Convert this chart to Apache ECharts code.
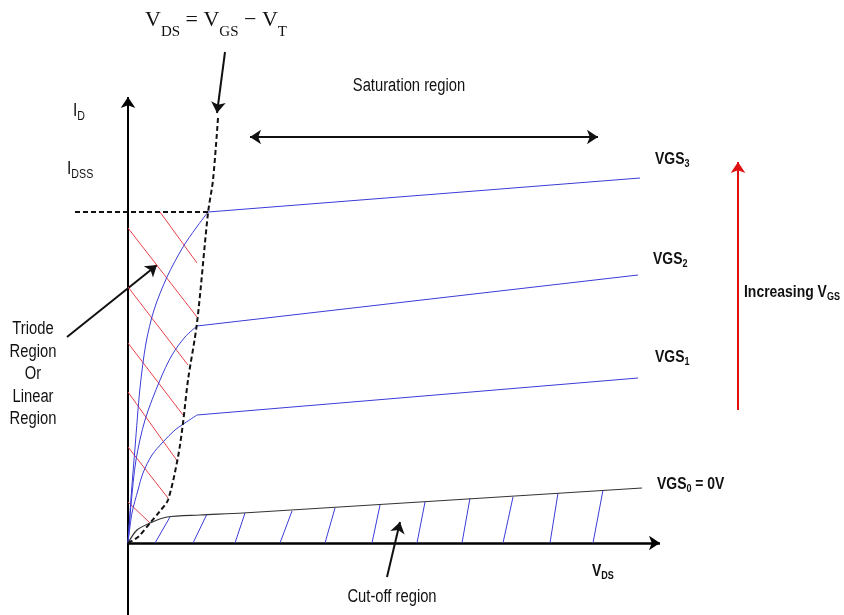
<!DOCTYPE html>
<html>
<head>
<meta charset="utf-8">
<script src="https://cdn.jsdelivr.net/npm/echarts@6/dist/echarts.min.js"></script>
<style>
html, body { margin: 0; background: #fff; }
#chart1 { width: 844px; height: 615px; }
</style>
</head>
<body>
<div id="chart1"></div>
<script>
// diagram units: x = V_DS, y = I_D, origin where the axes cross
var boundary = [[0,0],[1.0,0.6],[2.2,2.0],[3.2,3.2],[4.0,4.3],[5.0,8.6],[5.5,12.0],[6.0,16.3],[6.9,22.0],[8.0,33.0],[8.5,36.3],[9.0,42.5]];
var idssLine = [[-5.3,33.1],[8.0,33.1]];

var vgs3Curve = [[0,0],[0.3,4.5],[0.7,9.5],[1.2,15.5],[1.8,20.0],[2.6,23.3],[3.9,26.6],[5.5,29.6],[6.8,31.5],[8.0,33.1]];
var vgs3Sat = [[8.0,33.1],[51.2,36.5]];
var vgs2Curve = [[0,0],[0.3,3.8],[0.8,8.3],[1.7,12.3],[3.2,16.3],[4.4,18.8],[5.7,20.6],[6.9,21.7]];
var vgs2Sat = [[6.9,21.7],[51.0,26.8]];
var vgs1Curve = [[0,0],[0.4,3.0],[1.0,5.3],[1.5,7.0],[2.4,8.8],[3.5,10.1],[4.7,11.3],[5.4,11.8],[6.9,12.8]];
var vgs1Sat = [[6.9,12.8],[51.0,16.5]];
var vgs0 = [[0,0],[0.9,1.3],[2.2,2.0],[3.9,2.6],[7.2,2.8],[11.5,3.0],[51.4,5.5]];

// red hatching of the triode region
var triodeHatch = [
    [[3.2,33.1],[6.9,28.0]],
    [[0,31.5],[6.9,22.6]],
    [[0,25.6],[6.0,17.8]],
    [[0,20.0],[5.5,12.8]],
    [[0,15.1],[5.0,8.1]],
    [[0,9.6],[4.0,4.5]],
    [[0,4.1],[2.2,2.0]]
];
// blue hatching of the cut-off region: foot on the V_DS axis, top on VGS0
var cutoffFoot = [2.7, 6.5, 10.7, 15.2, 19.7, 24.4, 28.9, 33.4, 37.5, 42.2, 46.5];
var cutoffTop = [[4.2,2.6],[7.9,2.9],[11.7,3.0],[16.4,3.2],[20.7,3.5],[25.2,3.8],[29.7,4.1],[34.2,4.5],[38.5,4.6],[43.0,5.0],[47.5,5.3]];

var axisLines = [[[0,-7.2],[0,44.6]], [[0,0],[53.2,0]]];
var formulaArrow = [[9.7,49.1],[8.9,43.0]];
var saturationArrow = [[12.2,40.6],[47.0,40.6]];
var triodeArrow = [[-6.1,20.6],[2.9,27.8]];
var cutoffArrow = [[25.9,-3.4],[27.2,2.1]];
var vgsArrow = [[61.0,13.3],[61.0,38.1]];

var sans = '"Liberation Sans", Arial, sans-serif';
var serif = '"Liberation Serif", "Times New Roman", serif';
var squeeze = 0.82;   // the source lettering is condensed

_initChart();

function segments (list) {
    var out = [];
    list.forEach(function (s) {
        out.push(s[0], s[1], '-');
    });
    return out;
}

// text with subscripts, y is the baseline of the big letters
function subText (x, y, text, family, size, subSize, weight, drop, sx) {
    var pad = Math.round(0.85 * (size - subSize) + drop);
    return {
        type: 'text',
        x: x,
        y: y - 0.85 * size,
        scaleX: sx,
        style: {
            text: text,
            fill: '#111',
            align: 'left',
            verticalAlign: 'top',
            rich: {
                b: { fontFamily: family, fontSize: size, fontWeight: weight, lineHeight: size, verticalAlign: 'top' },
                s: { fontFamily: family, fontSize: subSize, fontWeight: weight, lineHeight: subSize, verticalAlign: 'top', padding: [pad, 0, 0, 0] }
            }
        }
    };
}

function plainText (x, y, text, size, weight, align, lh) {
    return {
        type: 'text',
        x: x,
        y: y,
        scaleX: squeeze,
        style: {
            text: text,
            fill: '#111',
            font: weight + ' ' + size + 'px ' + sans,
            align: align,
            verticalAlign: 'top',
            lineHeight: lh
        }
    };
}

function arrow (coords, color, width, both) {
    return {
        type: 'lines',
        coordinateSystem: 'cartesian2d',
        symbol: both ? ['arrow', 'arrow'] : ['none', 'arrow'],
        symbolSize: 11,
        lineStyle: { color: color, width: width, opacity: 1, curveness: 0 },
        data: [{ coords: coords }],
        silent: true
    };
}

function line (data, color, width, type, smooth) {
    return {
        type: 'line',
        data: data,
        symbol: 'none',
        smooth: smooth || false,
        connectNulls: false,
        lineStyle: { color: color, width: width, type: type || 'solid' },
        silent: true
    };
}

function _initChart () {
    var myChart = echarts.init(document.getElementById('chart1'));
    var blue = '#3b3bd6';
    var red = '#e8424a';
    var cutoffSegs = cutoffFoot.map(function (x, i) { return [[x, 0], cutoffTop[i]]; });
    var option = {
        animation: false,
        grid: { left: 0, right: 0, top: 0, bottom: 0 },
        xAxis: { type: 'value', min: -12.8, max: 71.6, show: false },
        yAxis: { type: 'value', min: -7.2, max: 54.3, show: false },
        series: [
            line(segments(triodeHatch), red, 1),
            line(segments(cutoffSegs), blue, 1),
            line(vgs3Curve, blue, 1, 'solid', 0.3),
            line(vgs3Sat, blue, 1),
            line(vgs2Curve, blue, 1, 'solid', 0.3),
            line(vgs2Sat, blue, 1),
            line(vgs1Curve, blue, 1, 'solid', 0.3),
            line(vgs1Sat, blue, 1),
            line(vgs0, '#333', 1.2, 'solid', 0.3),
            line(boundary, '#111', 2, [5, 3], 0.3),
            line(idssLine, '#111', 2, [5, 3]),
            arrow(axisLines[0], '#000', 2),
            arrow(axisLines[1], '#000', 2.5),
            arrow(formulaArrow, '#111', 2),
            arrow(saturationArrow, '#111', 2, true),
            arrow(triodeArrow, '#111', 2),
            arrow(cutoffArrow, '#111', 2),
            arrow(vgsArrow, '#e01010', 2)
        ],
        graphic: [
            subText(145, 28, '{b|V}{s|DS}{b| = V}{s|GS}{b| \u2212 V}{s|T}', serif, 22, 15, 'normal', 9, 1),
            subText(73, 117, '{b|I}{s|D}', sans, 19, 13, 'normal', 4, squeeze),
            subText(67, 175, '{b|I}{s|DSS}', sans, 19, 13, 'normal', 4, squeeze),
            plainText(409, 76, 'Saturation region', 18, 'normal', 'center', 20),
            subText(655, 165, '{b|VGS}{s|3}', sans, 17, 11, 'bold', 3, squeeze),
            subText(653, 265, '{b|VGS}{s|2}', sans, 17, 11, 'bold', 3, squeeze),
            subText(655, 363, '{b|VGS}{s|1}', sans, 17, 11, 'bold', 3, squeeze),
            subText(657, 490, '{b|VGS}{s|0}{b| = 0V}', sans, 17, 11, 'bold', 3, squeeze),
            subText(744, 298, '{b|Increasing V}{s|GS}', sans, 17, 11, 'bold', 3, squeeze),
            subText(592, 577, '{b|V}{s|DS}', sans, 17, 11, 'bold', 3, squeeze),
            plainText(33, 318, 'Triode\nRegion\nOr\nLinear\nRegion', 18, 'normal', 'center', 22.5),
            plainText(392, 587, 'Cut-off region', 18, 'normal', 'center', 20)
        ]
    };
    myChart.setOption(option);
    window.onresize = myChart.resize;
}
</script>
</body>
</html>
